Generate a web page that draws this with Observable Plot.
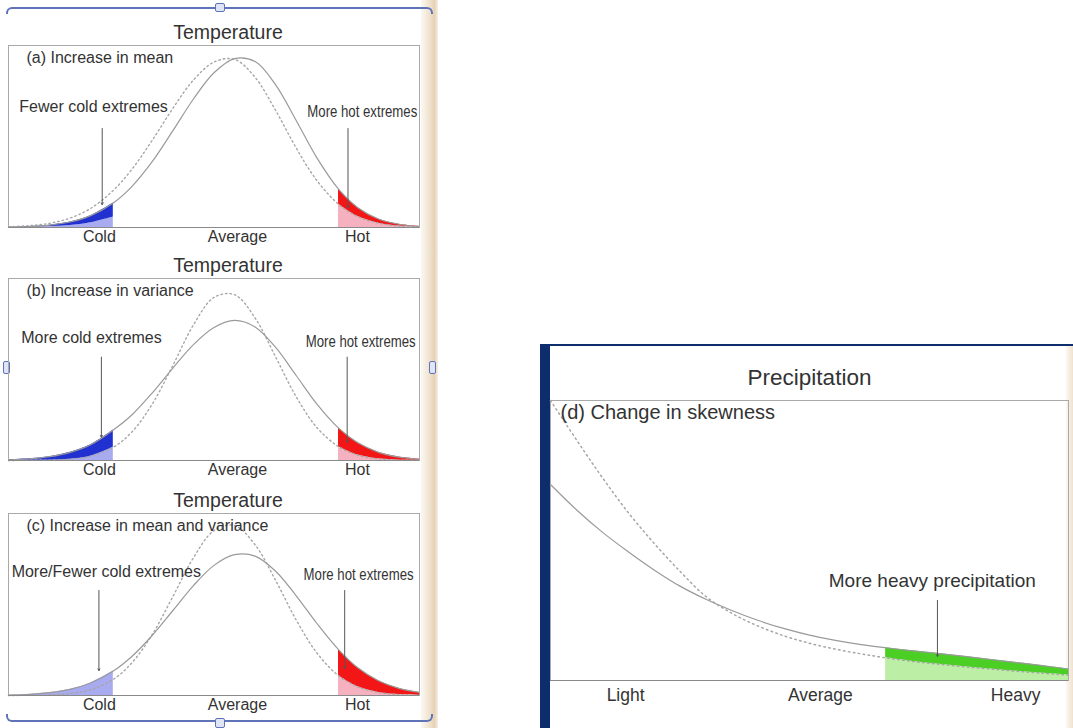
<!DOCTYPE html>
<html>
<head>
<meta charset="utf-8">
<script src="https://cdn.jsdelivr.net/npm/d3@7"></script>
<script src="https://cdn.jsdelivr.net/npm/@observablehq/plot@0.6"></script>
<style>
  html, body { margin: 0; padding: 0; background: #ffffff; }
  body { width: 1073px; height: 728px; position: relative; overflow: hidden;
         font-family: "Liberation Sans", Arial, Helvetica, sans-serif; }
  .panel { position: absolute; }
  .panel svg { overflow: visible; }
  .panel svg [aria-label^="x-axis"] text { fill: #333; }
  #pa svg [aria-label^="x-axis"] text, #pb svg [aria-label^="x-axis"] text, #pc svg [aria-label^="x-axis"] text { font-size: 16px; }
  #pd svg [aria-label^="x-axis"] text { font-size: 17.5px; }
  .deco { position: absolute; box-sizing: border-box; }
</style>
</head>
<body>
<!-- page / selection decorations -->
<div class="deco" style="left:421px;top:0;width:17px;height:728px;background:linear-gradient(to right,#fbf8f2,#f1e5d2 45%,#e6d2b6 80%,#f6efe4);"></div>
<div class="deco" style="left:6px;top:7px;width:427px;height:7px;border-top:2px solid #5f74b8;border-left:2px solid #5f74b8;border-right:2px solid #5f74b8;border-radius:6px 6px 0 0;"></div>
<div class="deco" style="left:6px;top:714px;width:427px;height:8px;border-bottom:2px solid #5f74b8;border-left:2px solid #5f74b8;border-right:2px solid #5f74b8;border-radius:0 0 6px 6px;"></div>
<div class="deco" style="left:215px;top:3px;width:10px;height:9px;border:1.5px solid #5f74b8;background:#dfe5f6;border-radius:2px;"></div>
<div class="deco" style="left:215px;top:718px;width:10px;height:10px;border:1.5px solid #5f74b8;background:#dfe5f6;border-radius:2px;"></div>
<div class="deco" style="left:3px;top:361px;width:7px;height:13px;border:1.5px solid #5f74b8;background:#dfe5f6;border-radius:2px;"></div>
<div class="deco" style="left:429px;top:361px;width:7px;height:13px;border:1.5px solid #5f74b8;background:#dfe5f6;border-radius:2px;"></div>
<div class="deco" style="left:540px;top:344px;width:533px;height:2px;background:#0e2d6d;"></div>
<div class="deco" style="left:540px;top:344px;width:10px;height:384px;background:#0e2d6d;"></div>
<div class="deco" style="left:1066px;top:346px;width:7px;height:382px;background:linear-gradient(to right,#fbf8f2,#efe3cf);"></div>

<div id="pa" class="panel" style="left:0;top:17px"></div>
<div id="pb" class="panel" style="left:0;top:250px"></div>
<div id="pc" class="panel" style="left:0;top:485px"></div>
<div id="pd" class="panel" style="left:549px;top:360px"></div>

<script>
// ---------------- data ----------------
const panelTitles = ["Temperature", "Temperature", "Temperature", "Precipitation"];
const panelLabels = ["(a) Increase in mean", "(b) Increase in variance",
                     "(c) Increase in mean and variance", "(d) Change in skewness"];

// temperature axis (0..100 relative units)
const tempX = [0, 5, 10, 15, 20, 25.5, 30, 35, 40, 45, 50, 55, 60, 65, 70, 75, 80.3, 85, 90, 95, 100];
const coldEdge = 25.5;
const hotEdge = 80.3;
const tempTicks = [22.1, 55.7, 84.9];
const tempTickLabels = ["Cold", "Average", "Hot"];

// (a) increase in mean
const meanNew = [0.002, 0.005, 0.013, 0.03, 0.065, 0.135, 0.225, 0.363, 0.532, 0.706, 0.85, 0.928, 0.912, 0.784, 0.588, 0.384, 0.211, 0.109, 0.047, 0.018, 0.006];
const meanOld = [0.004, 0.01, 0.023, 0.052, 0.105, 0.204, 0.319, 0.48, 0.655, 0.81, 0.909, 0.924, 0.825, 0.643, 0.437, 0.259, 0.128, 0.06, 0.024, 0.008, 0.003];
const meanColdInner = [0.001, 0.002, 0.005, 0.011, 0.026, 0.058];
const meanNotes = ["Fewer cold extremes", "More hot extremes"];
const meanNoteX = [20.7, 72.7];
const meanNoteY = [0.665, 0.637];
const meanArrowX = [22.8, 82.6];
const meanArrowTop = [0.544, 0.544];
const meanArrowTip = [0.126, 0.11];

// (b) increase in variance
const varNew = [0.004, 0.009, 0.021, 0.045, 0.087, 0.168, 0.25, 0.372, 0.508, 0.637, 0.731, 0.77, 0.734, 0.621, 0.467, 0.311, 0.178, 0.097, 0.045, 0.019, 0.007];
const varOld = [0.0, 0.001, 0.002, 0.007, 0.024, 0.073, 0.156, 0.311, 0.523, 0.745, 0.896, 0.911, 0.783, 0.569, 0.35, 0.182, 0.076, 0.03, 0.009, 0.002, 0.001];
const varNotes = ["More cold extremes", "More hot extremes"];
const varNoteX = [20.2, 72.3];
const varNoteY = [0.676, 0.654];
const varArrowX = [22.6, 82.4];
const varArrowTop = [0.568, 0.568];
const varArrowTip = [0.128, 0.10];

// (c) increase in mean and variance
const bothNew = [0.002, 0.006, 0.016, 0.034, 0.069, 0.134, 0.214, 0.331, 0.467, 0.604, 0.715, 0.774, 0.766, 0.683, 0.548, 0.397, 0.252, 0.152, 0.081, 0.039, 0.017];
const bothOld = [0.0, 0.001, 0.003, 0.011, 0.032, 0.089, 0.179, 0.336, 0.544, 0.757, 0.906, 0.934, 0.828, 0.632, 0.415, 0.235, 0.109, 0.048, 0.017, 0.005, 0.001];
const bothNotes = ["More/Fewer cold extremes", "More hot extremes"];
const bothNoteX = [23.8, 71.8];
const bothNoteY = [0.681, 0.665];
const bothArrowX = [22.0, 81.8];
const bothArrowTop = [0.577, 0.577];
const bothArrowTip = [0.137, 0.148];

// (d) precipitation, change in skewness
const precipX = [0, 5, 10, 15, 20, 25, 30, 35, 40, 45, 50, 55, 60, 64.7, 70, 75, 80, 85, 90, 95, 100];
const heavyEdge = 64.7;
const skewNew = [0.70, 0.61, 0.53, 0.46, 0.395, 0.337, 0.29, 0.25, 0.215, 0.186, 0.162, 0.143, 0.128, 0.117, 0.106, 0.096, 0.086, 0.075, 0.064, 0.053, 0.041];
const skewOld = [1.0, 0.86, 0.725, 0.6, 0.49, 0.39, 0.30, 0.24, 0.195, 0.16, 0.133, 0.112, 0.095, 0.081, 0.068, 0.058, 0.049, 0.041, 0.033, 0.026, 0.019];
const precipTicks = [14.5, 52.1, 89.8];
const precipTickLabels = ["Light", "Average", "Heavy"];
const skewNotes = ["More heavy precipitation"];
const skewNoteX = [73.7];
const skewNoteY = [0.357];
const skewArrowX = [74.7];
const skewArrowTop = [0.286];
const skewArrowTip = [0.086];

// ---------------- drawing ----------------
const FONT = '"Liberation Sans", Arial, Helvetica, sans-serif';
const TEXT = "#333";
const CURVE = "catmull-rom";
const C = {
  darkBlue: "#2131cf", lightBlue: "#a9abf1",
  red: "#f21616", pink: "#f5b1bf",
  green: "#4ccf24", lightGreen: "#bdeea6",
  line: "#9a9a9a", dotted: "#a6a6a6", frame: "#a9a9a9", base: "#8a8a8a"
};

function notesData(texts, xs, ys) { return texts.map((t, i) => ({t, x: xs[i], y: ys[i]})); }
function arrowsData(xs, tops, tips) { return xs.map((x, i) => ({x, top: tops[i], tip: tips[i]})); }

function condense(svg, text, len) {
  d3.select(svg).selectAll("text")
    .filter(function () { return this.textContent === text; })
    .attr("textLength", len).attr("lengthAdjust", "spacingAndGlyphs");
}

function tempPanel(idx, nw, old, coldInner, notes, arrows) {
  const rows = tempX.map((x, i) => ({x, nw: nw[i], old: old[i]}));
  const cold = rows.filter(d => d.x <= coldEdge).map((d, i) => ({...d, inner: coldInner ? coldInner[i] : d.nw}));
  const hot = rows.filter(d => d.x >= hotEdge);
  const tickMap = new Map(tempTicks.map((t, i) => [t, tempTickLabels[i]]));
  const marks = [
    Plot.areaY(cold, {x: "x", y1: 0, y2: "inner", fill: C.lightBlue, curve: CURVE})
  ];
  if (coldInner) marks.push(Plot.areaY(cold, {x: "x", y1: "inner", y2: "nw", fill: C.darkBlue, curve: CURVE}));
  marks.push(
    Plot.areaY(hot, {x: "x", y1: 0, y2: "old", fill: C.pink, curve: CURVE}),
    Plot.areaY(hot, {x: "x", y1: "old", y2: "nw", fill: C.red, curve: CURVE}),
    Plot.line(rows, {x: "x", y: "old", stroke: C.dotted, strokeWidth: 1.4, strokeDasharray: "1.5,3", curve: CURVE}),
    Plot.line(rows, {x: "x", y: "nw", stroke: C.line, strokeWidth: 1.2, curve: CURVE}),
    Plot.frame({stroke: C.frame}),
    Plot.ruleY([0], {stroke: C.base, strokeWidth: 1.2}),
    Plot.text([panelTitles[idx]], {text: d => d, frameAnchor: "top", lineAnchor: "middle", dx: 14, dy: -12.5, fontSize: 19.5, fill: TEXT}),
    Plot.text([panelLabels[idx]], {text: d => d, frameAnchor: "top-left", lineAnchor: "middle", dx: 18, dy: 12.5, textAnchor: "start", fontSize: 16, fill: TEXT}),
    Plot.text(notes.slice(0, 1), {x: "x", y: "y", text: "t", textAnchor: "middle", lineAnchor: "middle", fontSize: 16, fill: TEXT}),
    Plot.text(notes.slice(1), {x: "x", y: "y", text: "t", textAnchor: "start", lineAnchor: "middle", fontSize: 16, fill: TEXT}),
    Plot.arrow(arrows, {x1: "x", x2: "x", y1: "top", y2: "tip", stroke: "#555", strokeWidth: 1, headLength: 3})
  );
  const svg = Plot.plot({
    width: 432, height: 230,
    marginTop: 28, marginBottom: 20, marginLeft: 8, marginRight: 13,
    x: {domain: [0, 100], ticks: tempTicks, tickFormat: d => tickMap.get(d), tickSize: 0, tickPadding: 3, label: null},
    y: {domain: [0, 1], axis: null},
    style: {fontFamily: FONT, fontSize: "16px", color: TEXT, background: "transparent", overflow: "visible"},
    marks
  });
  condense(svg, "More hot extremes", 110);
  return svg;
}

document.getElementById("pa").append(
  tempPanel(0, meanNew, meanOld, meanColdInner,
    notesData(meanNotes, meanNoteX, meanNoteY), arrowsData(meanArrowX, meanArrowTop, meanArrowTip)));
document.getElementById("pb").append(
  tempPanel(1, varNew, varOld, varOld.slice(0, 6),
    notesData(varNotes, varNoteX, varNoteY), arrowsData(varArrowX, varArrowTop, varArrowTip)));
document.getElementById("pc").append(
  tempPanel(2, bothNew, bothOld, null,
    notesData(bothNotes, bothNoteX, bothNoteY), arrowsData(bothArrowX, bothArrowTop, bothArrowTip)));

// precipitation panel
(function () {
  const rows = precipX.map((x, i) => ({x, nw: skewNew[i], old: skewOld[i]}));
  const heavy = rows.filter(d => d.x >= heavyEdge);
  const tickMap = new Map(precipTicks.map((t, i) => [t, precipTickLabels[i]]));
  const svg = Plot.plot({
    width: 524, height: 350,
    marginTop: 40, marginBottom: 30, marginLeft: 1, marginRight: 5,
    x: {domain: [0, 100], ticks: precipTicks, tickFormat: d => tickMap.get(d), tickSize: 0, tickPadding: 8, label: null},
    y: {domain: [0, 1], axis: null},
    style: {fontFamily: FONT, fontSize: "18px", color: TEXT, background: "transparent", overflow: "visible"},
    marks: [
      Plot.areaY(heavy, {x: "x", y1: 0, y2: "old", fill: C.lightGreen, curve: CURVE}),
      Plot.areaY(heavy, {x: "x", y1: "old", y2: "nw", fill: C.green, curve: CURVE}),
      Plot.line(rows, {x: "x", y: "old", stroke: C.dotted, strokeWidth: 1.5, strokeDasharray: "1.5,3.5", curve: CURVE}),
      Plot.line(rows, {x: "x", y: "nw", stroke: C.line, strokeWidth: 1.2, curve: CURVE}),
      Plot.frame({stroke: C.frame}),
      Plot.ruleY([0], {stroke: C.base, strokeWidth: 1.2}),
      Plot.text([panelTitles[3]], {text: d => d, frameAnchor: "top", lineAnchor: "middle", dy: -23, fontSize: 22.5, fill: TEXT}),
      Plot.text([panelLabels[3]], {text: d => d, frameAnchor: "top-left", lineAnchor: "middle", dx: 10, dy: 12, textAnchor: "start", fontSize: 20, fill: TEXT}),
      Plot.text(notesData(skewNotes, skewNoteX, skewNoteY), {x: "x", y: "y", text: "t", textAnchor: "middle", lineAnchor: "middle", fontSize: 19, fill: TEXT}),
      Plot.arrow(arrowsData(skewArrowX, skewArrowTop, skewArrowTip), {x1: "x", x2: "x", y1: "top", y2: "tip", stroke: "#555", strokeWidth: 1, headLength: 3})
    ]
  });
  document.getElementById("pd").append(svg);
})();
</script>
</body>
</html>
